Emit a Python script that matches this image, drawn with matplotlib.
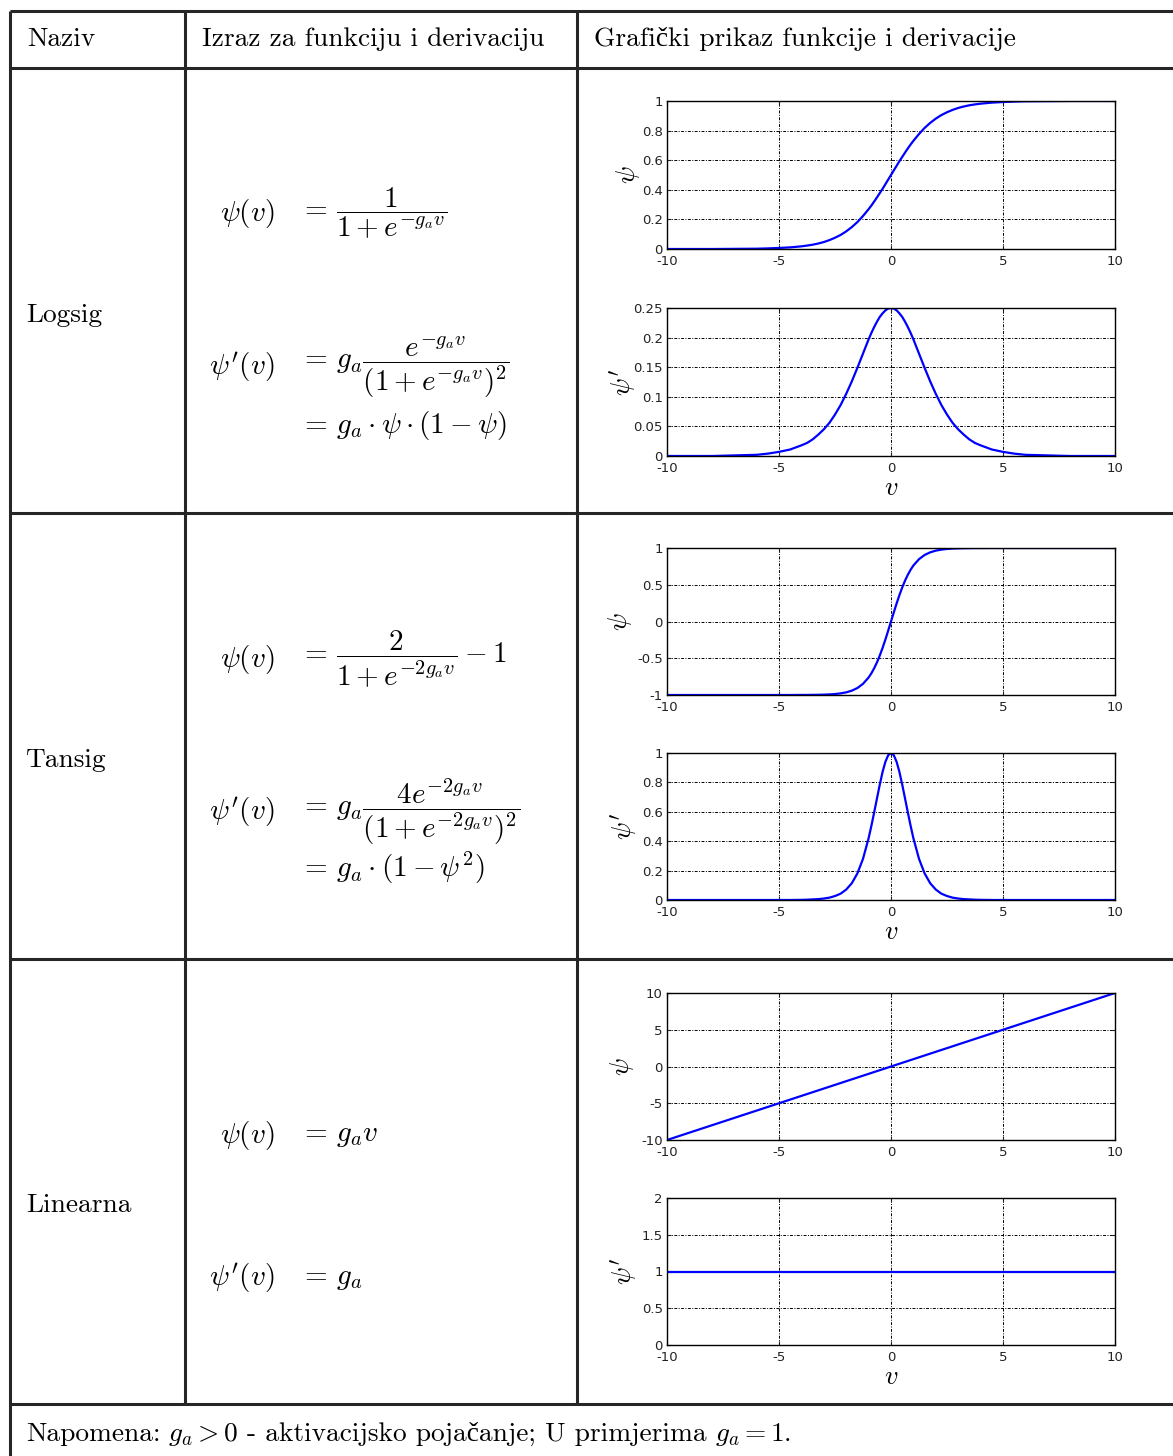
import numpy as np
import matplotlib
matplotlib.use("Agg")
import matplotlib.pyplot as plt

plt.rcParams['mathtext.fontset'] = 'cm'
plt.rcParams['axes.unicode_minus'] = False

W, H = 1173, 1456

# values
v = [-10, -9, -8, -7, -6, -5.5, -5, -4.5,
     -4, -3.75, -3.5, -3.25, -3, -2.75, -2.5, -2.25, -2, -1.75, -1.5, -1.25,
     -1, -0.875, -0.75, -0.625, -0.5, -0.375, -0.25, -0.125, 0,
     0.125, 0.25, 0.375, 0.5, 0.625, 0.75, 0.875, 1,
     1.25, 1.5, 1.75, 2, 2.25, 2.5, 2.75, 3, 3.25, 3.5, 3.75, 4,
     4.5, 5, 5.5, 6, 7, 8, 9, 10]

logsig = [0.000, 0.000, 0.000, 0.001, 0.002, 0.004, 0.007, 0.011,
          0.018, 0.023, 0.029, 0.037, 0.047, 0.060, 0.076, 0.095, 0.119, 0.148, 0.182, 0.223,
          0.269, 0.294, 0.321, 0.349, 0.378, 0.407, 0.438, 0.469, 0.500,
          0.531, 0.562, 0.593, 0.622, 0.651, 0.679, 0.706, 0.731,
          0.777, 0.818, 0.852, 0.881, 0.905, 0.924, 0.940, 0.953, 0.963, 0.971, 0.977, 0.982,
          0.989, 0.993, 0.996, 0.998, 0.999, 1.000, 1.000, 1.000]

dlogsig = [0.000, 0.000, 0.000, 0.001, 0.002, 0.004, 0.007, 0.011,
           0.018, 0.022, 0.028, 0.036, 0.045, 0.056, 0.070, 0.086, 0.105, 0.126, 0.149, 0.173,
           0.197, 0.208, 0.218, 0.227, 0.235, 0.241, 0.246, 0.249, 0.250,
           0.249, 0.246, 0.241, 0.235, 0.227, 0.218, 0.208, 0.197,
           0.173, 0.149, 0.126, 0.105, 0.086, 0.070, 0.056, 0.045, 0.036, 0.028, 0.022, 0.018,
           0.011, 0.007, 0.004, 0.002, 0.001, 0.000, 0.000, 0.000]

tansig = [-1.000, -1.000, -1.000, -1.000, -1.000, -1.000, -1.000, -1.000,
          -0.999, -0.999, -0.998, -0.997, -0.995, -0.992, -0.987, -0.978, -0.964, -0.941, -0.905, -0.848,
          -0.762, -0.704, -0.635, -0.555, -0.462, -0.358, -0.245, -0.124, 0.000,
          0.124, 0.245, 0.358, 0.462, 0.555, 0.635, 0.704, 0.762,
          0.848, 0.905, 0.941, 0.964, 0.978, 0.987, 0.992, 0.995, 0.997, 0.998, 0.999, 0.999,
          1.000, 1.000, 1.000, 1.000, 1.000, 1.000, 1.000, 1.000]

dtansig = [0.000, 0.000, 0.000, 0.000, 0.000, 0.000, 0.000, 0.000,
           0.001, 0.002, 0.004, 0.006, 0.010, 0.016, 0.027, 0.043, 0.071, 0.114, 0.181, 0.280,
           0.420, 0.505, 0.597, 0.692, 0.786, 0.872, 0.940, 0.985, 1.000,
           0.985, 0.940, 0.872, 0.786, 0.692, 0.597, 0.505, 0.420,
           0.280, 0.181, 0.114, 0.071, 0.043, 0.027, 0.016, 0.010, 0.006, 0.004, 0.002, 0.001,
           0.000, 0.000, 0.000, 0.000, 0.000, 0.000, 0.000, 0.000]

v_lin = [-10, 10]
purelin = [-10, 10]
dpurelin = [1, 1]

xticks = [-10, -5, 0, 5, 10]
yticks_logsig = [0, 0.2, 0.4, 0.6, 0.8, 1]
yticks_dlogsig = [0, 0.05, 0.1, 0.15, 0.2, 0.25]
yticks_tansig = [-1, -0.5, 0, 0.5, 1]
yticks_dtansig = [0, 0.2, 0.4, 0.6, 0.8, 1]
yticks_purelin = [-10, -5, 0, 5, 10]
yticks_dpurelin = [0, 0.5, 1, 1.5, 2]

names = ["Logsig", "Tansig", "Linearna"]
headers = ["Naziv", "Izraz za funkciju i derivaciju", "Grafički prikaz funkcije i derivacije"]
note_parts = ["Napomena:", r"$g_a > 0$", "- aktivacijsko pojačanje; U primjerima", r"$g_a = 1$", "."]

TXT = ['cmr10', 'Liberation Serif']
LC = '#262626'
FS = 19.7

fig = plt.figure(figsize=(W / 100, H / 100), dpi=100)
bg = fig.add_axes([0, 0, 1, 1])
bg.set_xlim(0, W)
bg.set_ylim(H, 0)
bg.axis('off')

# table rules
for y in [11, 68, 513, 959, 1404]:
    bg.plot([10, W], [y, y], color=LC, lw=2.2, solid_capstyle='butt')
bg.plot([10, 10], [11, H], color=LC, lw=2.2, solid_capstyle='butt')
for x in [185, 577]:
    bg.plot([x, x], [11, 1404], color=LC, lw=2.2, solid_capstyle='butt')

# header
for x, t in zip([27, 202, 594], headers):
    bg.text(x, 46, t, family=TXT, fontsize=FS, ha='left', va='baseline')

# row names
for y, t in zip([322, 767, 1212], names):
    bg.text(26, y, t, family=TXT, fontsize=FS, ha='left', va='baseline')

EQ = 21
def eq(y, lhs, rhs):
    if lhs:
        bg.text(275, y, lhs, fontsize=EQ, ha='right', va='center')
    bg.text(299, y, rhs, fontsize=EQ, ha='left', va='center')

eq(213, r"$\psi(v)$", r"$=\,\dfrac{1}{1+e^{-g_a v}}$")
eq(367, r"$\psi'(v)$", r"$=\,g_a\dfrac{e^{-g_a v}}{(1+e^{-g_a v})^2}$")
eq(425, None, r"$=\,g_a\cdot\psi\cdot(1-\psi)$")
eq(660, r"$\psi(v)$", r"$=\,\dfrac{2}{1+e^{-2g_a v}}-1$")
eq(812, r"$\psi'(v)$", r"$=\,g_a\dfrac{4e^{-2g_a v}}{(1+e^{-2g_a v})^2}$")
eq(868, None, r"$=\,g_a\cdot(1-\psi^2)$")
eq(1135, r"$\psi(v)$", r"$=\,g_a v$")
eq(1278, r"$\psi'(v)$", r"$=\,g_a$")

# footnote, pieced together so the č falls back to another font
fig.canvas.draw()
renderer = fig.canvas.get_renderer()
x = 26
gaps = [8, 8, 8, 0, 0]
for part, gap in zip(note_parts, gaps):
    t = bg.text(x, 1441, part, family=TXT, fontsize=FS, ha='left', va='baseline')
    bb = t.get_window_extent(renderer)
    x = bb.x1 + gap

# plots
panels = [
    (101, 249, v, logsig, yticks_logsig, r"$\psi$", False, 628),
    (308, 456, v, dlogsig, yticks_dlogsig, r"$\psi'$", True, 623),
    (548, 695, v, tansig, yticks_tansig, r"$\psi$", False, 620),
    (753, 900, v, dtansig, yticks_dtansig, r"$\psi'$", True, 624),
    (993, 1140, v_lin, purelin, yticks_purelin, r"$\psi$", False, 622),
    (1198, 1345, v_lin, dpurelin, yticks_dpurelin, r"$\psi'$", True, 624),
]
x0, x1 = 667, 1115
for top, bot, xs, ys, yt, ylab, show_x, ylx in panels:
    ax = fig.add_axes([x0 / W, 1 - bot / H, (x1 - x0) / W, (bot - top) / H])
    ax.plot(xs, ys, color='#0000ff', lw=1.6)
    ax.set_xlim(-10, 10)
    ax.set_ylim(yt[0], yt[-1])
    ax.set_xticks(xticks)
    ax.set_yticks(yt)
    ax.xaxis.set_major_formatter(matplotlib.ticker.FormatStrFormatter('%g'))
    ax.yaxis.set_major_formatter(matplotlib.ticker.FormatStrFormatter('%g'))
    ax.grid(True, color='k', linestyle=(0, (3, 1.5, 1, 1.5)), lw=0.7)
    ax.tick_params(direction='in', length=3, top=True, right=True, labelsize=9.5,
                   colors='#222222')
    ax.tick_params(axis='y', pad=3)
    ax.tick_params(axis='x', pad=4)
    for s in ax.spines.values():
        s.set_linewidth(1.0)
    ax.set_ylabel(ylab, fontsize=19)
    ax.yaxis.label.set_verticalalignment('center')
    ax.yaxis.set_label_coords((ylx - x0) / (x1 - x0), 0.5)
    if show_x:
        ax.set_xlabel(r"$v$", fontsize=19)
        ax.xaxis.label.set_verticalalignment('center')
        ax.xaxis.set_label_coords(0.5, -(488 - 456) / (bot - top))

fig.savefig("out.png", dpi=100)
